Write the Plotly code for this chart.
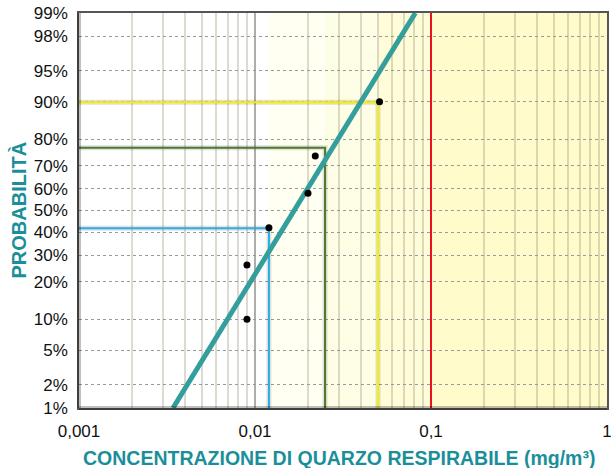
import plotly.graph_objects as go
from statistics import NormalDist

nd = NormalDist()


def z(p):
    # percent -> probit (normal quantile)
    return nd.inv_cdf(p / 100.0)


# y axis (probability scale) ticks
prob_ticks = [1, 2, 5, 10, 20, 30, 40, 50, 60, 70, 80, 90, 95, 98, 99]
prob_labels = [f"{p}%" for p in prob_ticks]

# x axis ticks
conc_ticks = [0.001, 0.01, 0.1, 1]
conc_labels = ["0,001", "0,01", "0,1", "1"]

# measured samples
sample_conc = [0.009, 0.009, 0.012, 0.020, 0.022, 0.051]
sample_prob = [10, 26, 42, 58, 74, 90]

# fitted lognormal line (end points at 1% and 99%)
fit_conc = [0.00342, 0.0815]
fit_prob = [1, 99]

# threshold levels and the probability read at each
thr_conc = [0.012, 0.025, 0.05]
thr_prob = [41.7, 77.0, 89.9]
thr_colors = ["#29aee6", "#4e7a2e", "#f5f000"]
limit_conc = 0.1

# background bands
band_edges = [0.012, 0.025, 0.05, 0.1, 1]
band_colors = ["#fffff2", "#fefde6", "#fffcd9", "#fffbca"]

teal = "#1a8f9a"
fig = go.Figure()

# background bands
for i, c in enumerate(band_colors):
    fig.add_shape(type="rect", xref="x", yref="y", layer="below",
                  x0=band_edges[i], x1=band_edges[i + 1],
                  y0=z(1), y1=z(99), fillcolor=c, line_width=0)

# darker median line
fig.add_shape(type="line", xref="paper", yref="y", layer="below",
              x0=0, x1=1, y0=z(50), y1=z(50),
              line=dict(color="#555", width=1, dash="dot"))

# threshold guide lines (with a soft shadow)
for c, p, col in zip(thr_conc, thr_prob, thr_colors):
    fig.add_trace(go.Scatter(x=[0.001, c, c], y=[z(p), z(p), z(1)], mode="lines",
                             line=dict(color="rgba(0,0,0,0.12)", width=5),
                             hoverinfo="skip", showlegend=False))
    fig.add_trace(go.Scatter(x=[0.001, c, c], y=[z(p), z(p), z(1)], mode="lines",
                             line=dict(color=col, width=2),
                             hoverinfo="skip", showlegend=False))

fig.add_trace(go.Scatter(x=[limit_conc, limit_conc], y=[z(1), z(99)], mode="lines",
                         line=dict(color="#e8141c", width=2), showlegend=False))

# fit line
fig.add_trace(go.Scatter(x=fit_conc, y=[z(p) for p in fit_prob], mode="lines",
                         line=dict(color="#349e9c", width=5), showlegend=False))

# sample points
fig.add_trace(go.Scatter(x=sample_conc, y=[z(p) for p in sample_prob], mode="markers",
                         marker=dict(color="black", size=7), showlegend=False))

# plot frame with shadow
fig.add_shape(type="line", xref="paper", yref="paper", x0=0, x1=0, y0=0, y1=1,
              line=dict(color="rgba(0,0,0,0.25)", width=4), layer="above")
fig.add_shape(type="line", xref="paper", yref="paper", x0=0, x1=1, y0=0, y1=0,
              line=dict(color="rgba(0,0,0,0.25)", width=4), layer="above")

fig.update_xaxes(type="log", range=[-3, 0], automargin=False,
                 tickvals=conc_ticks, ticktext=conc_labels,
                 ticklabeloverflow="allow",
                 showgrid=True, gridcolor="rgba(90,90,90,0.35)", gridwidth=1.5,
                 minor=dict(showgrid=True, dtick="D1", gridcolor="rgba(120,110,70,0.25)",
                            gridwidth=1.5),
                 showline=True, linecolor="#555", linewidth=1.5, mirror=True,
                 ticks="", ticklabelstandoff=7, tickfont=dict(size=17, color="#111"),
                 zeroline=False)
fig.update_yaxes(range=[z(1), z(99)], automargin=False,
                 tickvals=[z(p) for p in prob_ticks], ticktext=prob_labels,
                 showgrid=True, gridcolor="#9a9a9a", griddash="dot", gridwidth=1,
                 showline=True, linecolor="#555", linewidth=1.5, mirror=True,
                 ticks="", ticklabelstandoff=6, tickfont=dict(size=17, color="#111"),
                 zeroline=False)

# axis titles placed by hand
fig.add_annotation(text="<b>CONCENTRAZIONE DI QUARZO RESPIRABILE (mg/m³)</b>",
                   xref="paper", yref="paper", x=0.5, y=0, yshift=-50, xshift=-4,
                   xanchor="center", yanchor="middle",
                   showarrow=False, font=dict(size=19.5, color=teal))
fig.add_annotation(text="<b>PROBABILITÀ</b>", textangle=-90,
                   xref="paper", yref="paper", x=0, y=0.5, xshift=-61,
                   xanchor="center", yanchor="middle",
                   showarrow=False, font=dict(size=20, color=teal))

fig.update_layout(width=611, height=468,
                  margin=dict(l=79, r=4, t=13, b=60),
                  plot_bgcolor="white", paper_bgcolor="white",
                  font=dict(family="Liberation Sans, Arial, sans-serif"))

# drop the browser's default body margin so the figure sits at the page corner
fig.write_html("out.html", config={"displayModeBar": False},
               post_script="document.body.style.margin='0';")
